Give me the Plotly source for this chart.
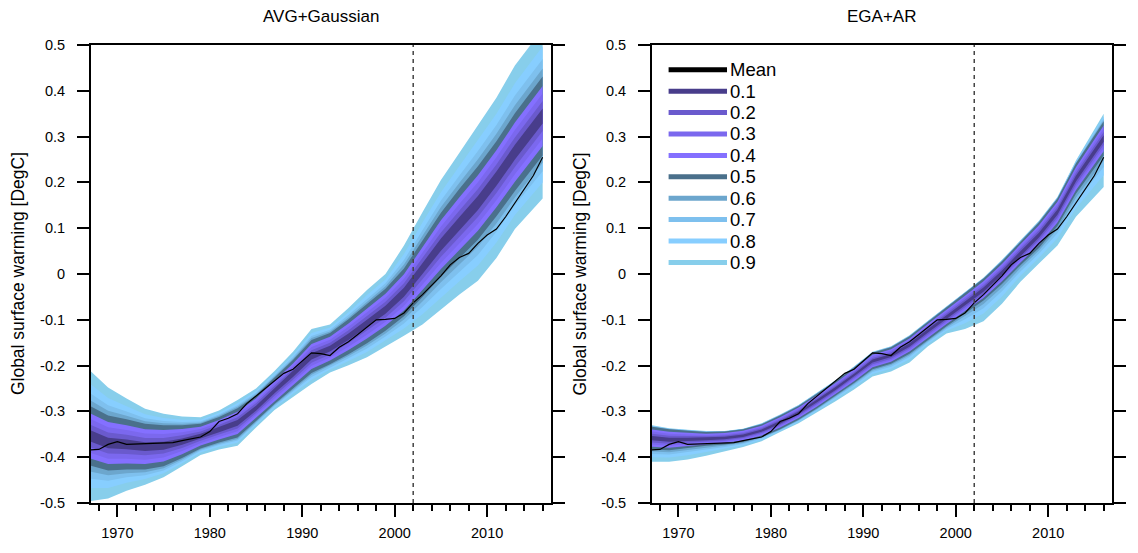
import plotly.graph_objects as go

# ---------------- data ----------------
obs_years = list(range(1967, 2017))
obs_mean = [-0.384, -0.383, -0.372, -0.366, -0.372, -0.371, -0.370, -0.369, -0.369, -0.368,
            -0.364, -0.360, -0.356, -0.344, -0.322, -0.315, -0.305, -0.283, -0.267, -0.250,
            -0.235, -0.217, -0.208, -0.190, -0.172, -0.174, -0.178, -0.160, -0.148, -0.132,
            -0.115, -0.100, -0.099, -0.097, -0.085, -0.063, -0.045, -0.024, -0.004, 0.020,
            0.036, 0.045, 0.067, 0.085, 0.098, 0.125, 0.155, 0.185, 0.215, 0.255]

band_years = [1967, 1969, 1971, 1973, 1975, 1977, 1979, 1981, 1983, 1985, 1987, 1989, 1991,
              1993, 1995, 1997, 1999, 2001, 2003, 2005, 2007, 2009, 2011, 2013, 2016]

# AVG+Gaussian
left_center = [-0.353, -0.369, -0.372, -0.377, -0.375, -0.366, -0.354, -0.340, -0.325, -0.293,
               -0.255, -0.219, -0.180, -0.163, -0.137, -0.108, -0.078, -0.040, 0.012, 0.064,
               0.110, 0.155, 0.208, 0.266, 0.345]
left_hw50 = [0.065, 0.060, 0.055, 0.050, 0.045, 0.036, 0.027, 0.028, 0.032, 0.028,
             0.029, 0.031, 0.036, 0.034, 0.038, 0.043, 0.046, 0.052, 0.062, 0.070,
             0.076, 0.080, 0.082, 0.085, 0.086]
left_upper90 = [-0.210, -0.248, -0.272, -0.294, -0.305, -0.311, -0.313, -0.298, -0.275, -0.250,
                -0.212, -0.170, -0.120, -0.110, -0.074, -0.035, 0.000, 0.062, 0.135, 0.205,
                0.265, 0.325, 0.385, 0.455, 0.535]
left_lower90 = [-0.496, -0.490, -0.473, -0.460, -0.444, -0.420, -0.395, -0.383, -0.375, -0.335,
                -0.297, -0.268, -0.240, -0.215, -0.199, -0.182, -0.158, -0.135, -0.110, -0.078,
                -0.045, -0.015, 0.035, 0.098, 0.165]

# EGA+AR
right_center = [-0.358, -0.362, -0.361, -0.360, -0.358, -0.353, -0.342, -0.324, -0.303, -0.277,
                -0.250, -0.221, -0.190, -0.178, -0.155, -0.124, -0.093, -0.064, -0.034, 0.003,
                0.045, 0.085, 0.135, 0.208, 0.296]
right_hw50 = [0.025, 0.023, 0.019, 0.015, 0.014, 0.014, 0.014, 0.015, 0.015, 0.016,
              0.016, 0.017, 0.018, 0.018, 0.019, 0.020, 0.021, 0.022, 0.024, 0.025,
              0.026, 0.028, 0.030, 0.033, 0.037]
right_upper90 = [-0.330, -0.337, -0.340, -0.343, -0.343, -0.338, -0.326, -0.307, -0.286, -0.259,
                 -0.232, -0.202, -0.170, -0.158, -0.134, -0.102, -0.070, -0.040, -0.008, 0.031,
                 0.074, 0.116, 0.168, 0.248, 0.350]
right_lower90 = [-0.410, -0.410, -0.405, -0.397, -0.388, -0.378, -0.365, -0.345, -0.326, -0.302,
                 -0.278, -0.252, -0.224, -0.213, -0.193, -0.158, -0.130, -0.120, -0.103, -0.065,
                 -0.017, 0.023, 0.062, 0.125, 0.190]

band_levels = ["0.1", "0.2", "0.3", "0.4", "0.5", "0.6", "0.7", "0.8", "0.9"]
band_colors = ["#483d8b", "#6a5acd", "#7b68ee", "#8470ff", "#4a708b",
               "#6ca6cd", "#7ec0ee", "#87ceff", "#87ceeb"]
# relative widths of the levels (inner: share of the 0.5 half-width; outer: share of the 0.5->0.9 gap)
inner_share = [0.19, 0.38, 0.57, 0.76, 1.0]
outer_share = [0.17, 0.37, 0.63, 1.0]

y_tickvals = [0.5, 0.4, 0.3, 0.2, 0.1, 0.0, -0.1, -0.2, -0.3, -0.4, -0.5]
y_ticktext = ["0.5", "0.4", "0.3", "0.2", "0.1", "0", "-0.1", "-0.2", "-0.3", "-0.4", "-0.5"]
x_tickvals = [1970, 1980, 1990, 2000, 2010]
x_ticktext = ["1970", "1980", "1990", "2000", "2010"]

panel_titles = ["AVG+Gaussian", "EGA+AR"]
y_title = "Global surface warming [DegC]"
ref_year = 2002

FONT = "Liberation Sans, Arial, sans-serif"

fig = go.Figure()


def band_edges(center, hw50, up90, lo90, k):
    if k < 5:
        s = inner_share[k]
        up = [c + s * h for c, h in zip(center, hw50)]
        lo = [c - s * h for c, h in zip(center, hw50)]
    else:
        s = outer_share[k - 5]
        up = [c + h + s * (u - c - h) for c, h, u in zip(center, hw50, up90)]
        lo = [c - h - s * (c - h - l) for c, h, l in zip(center, hw50, lo90)]
    return up, lo


panels = [
    ("x", "y", left_center, left_hw50, left_upper90, left_lower90),
    ("x2", "y2", right_center, right_hw50, right_upper90, right_lower90),
]

for xa, ya, center, hw50, up90, lo90 in panels:
    for k in range(8, -1, -1):
        up, lo = band_edges(center, hw50, up90, lo90, k)
        fig.add_trace(go.Scatter(
            x=band_years + band_years[::-1],
            y=up + lo[::-1],
            fill="toself", fillcolor=band_colors[k],
            mode="lines", line=dict(width=0, color=band_colors[k]),
            showlegend=False, hoverinfo="skip", xaxis=xa, yaxis=ya,
        ))
    fig.add_trace(go.Scatter(
        x=obs_years, y=obs_mean, mode="lines",
        line=dict(color="black", width=1.2),
        showlegend=False, xaxis=xa, yaxis=ya,
    ))
    fig.add_shape(type="line", xref=xa, yref=f"{ya} domain",
                  x0=ref_year, x1=ref_year, y0=0, y1=1,
                  line=dict(color="#444444", width=1.5, dash="4px,4px"), layer="above")

# manual legend in right panel (Mean + levels)
legend_names = ["Mean"] + band_levels
legend_cols = ["black"] + band_colors
top_y = 0.946
step = 0.04675
for i, (nm, col) in enumerate(zip(legend_names, legend_cols)):
    yy = top_y - i * step
    fig.add_shape(type="line", xref="x2 domain", yref="y2 domain",
                  x0=0.036, x1=0.163, y0=yy, y1=yy,
                  line=dict(color=col, width=5), layer="above")
    fig.add_annotation(xref="x2 domain", yref="y2 domain", x=0.166, y=yy,
                       text=nm, showarrow=False, xanchor="left", yanchor="middle",
                       font=dict(size=18.5, color="black", family=FONT))

axis_common_x = dict(
    range=[1967.15, 2016.9], tickvals=x_tickvals, ticktext=x_ticktext,
    ticks="outside", ticklen=12, tickwidth=2, tickcolor="black",
    minor=dict(ticks="outside", ticklen=6, tickwidth=1.5, tickcolor="black", dtick=2, tick0=1968),
    showline=True, linewidth=2, linecolor="black", mirror=True,
    showgrid=False, zeroline=False, ticklabelstandoff=4,
    tickfont=dict(size=14.5, color="black", family=FONT),
)
axis_common_y = dict(
    range=[-0.5, 0.5], tickvals=y_tickvals, ticktext=y_ticktext,
    ticks="outside", ticklen=12, tickwidth=2, tickcolor="black",
    showline=True, linewidth=2, linecolor="black", mirror="ticks",
    showgrid=False, zeroline=False, ticklabelstandoff=9,
    tickfont=dict(size=14.5, color="black", family=FONT),
)

fig.update_layout(
    width=1138, height=553,
    margin=dict(l=91, r=24, t=45, b=46),
    plot_bgcolor="white", paper_bgcolor="white",
    font=dict(family=FONT, color="black"),
    showlegend=False,
    xaxis=dict(domain=[0, 0.4505], anchor="y", **axis_common_x),
    yaxis=dict(domain=[0, 1], anchor="x", **axis_common_y),
    xaxis2=dict(domain=[0.5495, 1], anchor="y2", **axis_common_x),
    yaxis2=dict(domain=[0, 1], anchor="x2", **axis_common_y),
)

# panel titles and y-axis titles
for xc, t in zip([0.2253, 0.7747], panel_titles):
    fig.add_annotation(xref="paper", yref="paper", x=xc, y=1.0628, text=t,
                       showarrow=False, xanchor="center", yanchor="middle",
                       font=dict(size=17, color="black", family=FONT))
for xc in [-0.0714, 0.4785]:
    fig.add_annotation(xref="paper", yref="paper", x=xc, y=0.5, text=y_title,
                       textangle=-90, showarrow=False, xanchor="center", yanchor="middle",
                       font=dict(size=17.5, color="black", family=FONT))

fig.write_html("out.html")
